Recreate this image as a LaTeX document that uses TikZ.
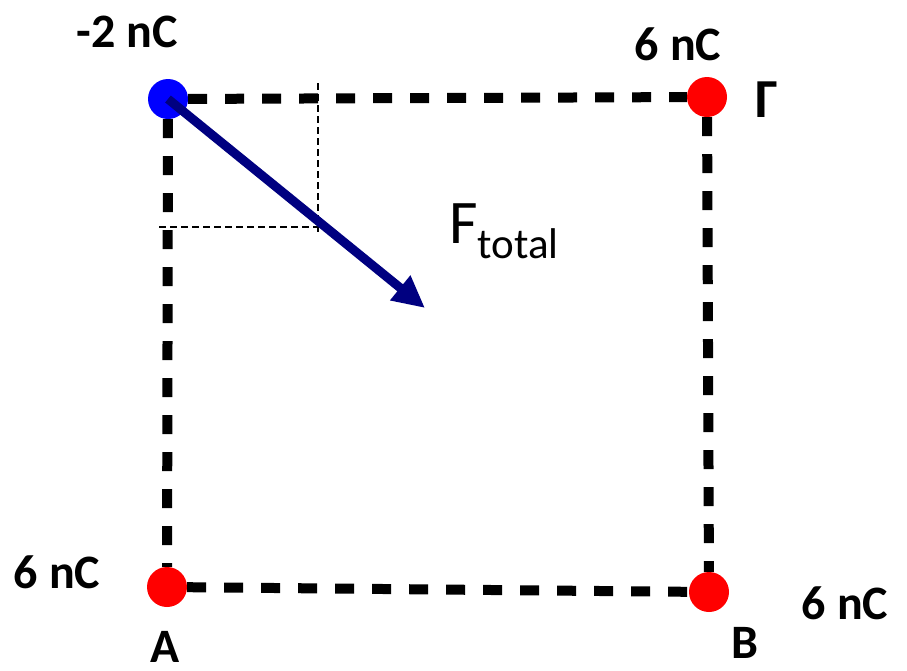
\documentclass[tikz,border=0pt]{standalone}
\usepackage{fontspec}
\setmainfont{Carlito}
\usetikzlibrary{arrows.meta}
\definecolor{chargeblue}{RGB}{0,0,255}
\definecolor{chargered}{RGB}{255,0,0}
\definecolor{forcenavy}{RGB}{0,0,128}
\tikzset{
  charge/.style={circle,minimum size=40pt,inner sep=0pt},
  side/.style={line width=10pt,dash pattern=on 19pt off 18pt},
  comp/.style={line width=1.5pt,dash pattern=on 7pt off 4pt},
  qlabel/.style={font=\bfseries\fontsize{48}{54}\selectfont,inner sep=0pt}
}
\begin{document}
\begin{tikzpicture}[x=1pt,y=-1pt]
            \useasboundingbox (0,0) rectangle (907,670);
            \node[charge,fill=chargeblue] (q1) at (168,99) {};
            \node[charge,fill=chargered] (q2) at (707,97) {};
            \node[charge,fill=chargered] (qA) at (167,587) {};
            \node[charge,fill=chargered] (qB) at (709,592) {};
            \draw[side] (q1)--(q2);
            \draw[side] (q2)--(qB);
            \draw[side] (qA)--(qB);
            \draw[side] (q1)--(qA);
            % components of the force
            \coordinate (cx) at (318,83);
            \coordinate (cy) at (159,227);
            \coordinate (c) at (319,227);
            \coordinate (c2) at (318,232);
            \draw[comp] (cx)--(c2);
            \draw[comp] (cy)--(c);
            \coordinate (ftip) at (425,308);
            \draw[forcenavy,line width=9pt,-{Triangle[length=32pt,width=30pt]}] (q1.center)--(ftip);
            \node[qlabel] (l1) at (127,32) {-2 nC};
            \node[qlabel] (l2) at (678,44) {6 nC};
            \node[qlabel] (lA) at (57,572) {6 nC};
            \node[qlabel] (lB) at (845,603) {6 nC};
            \node[qlabel,font=\bfseries\fontsize{55}{60}\selectfont] (gam) at (767,100) {Γ};
            \node[qlabel] (nA) at (165,647) {A};
            \node[qlabel] (nB) at (745,643) {B};
            \node[inner sep=0pt,anchor=base west] (ft) at (449,243) {\fontsize{62}{70}\selectfont F\raisebox{-15pt}{\fontsize{43}{50}\selectfont total}};
        \end{tikzpicture}
\end{document}
